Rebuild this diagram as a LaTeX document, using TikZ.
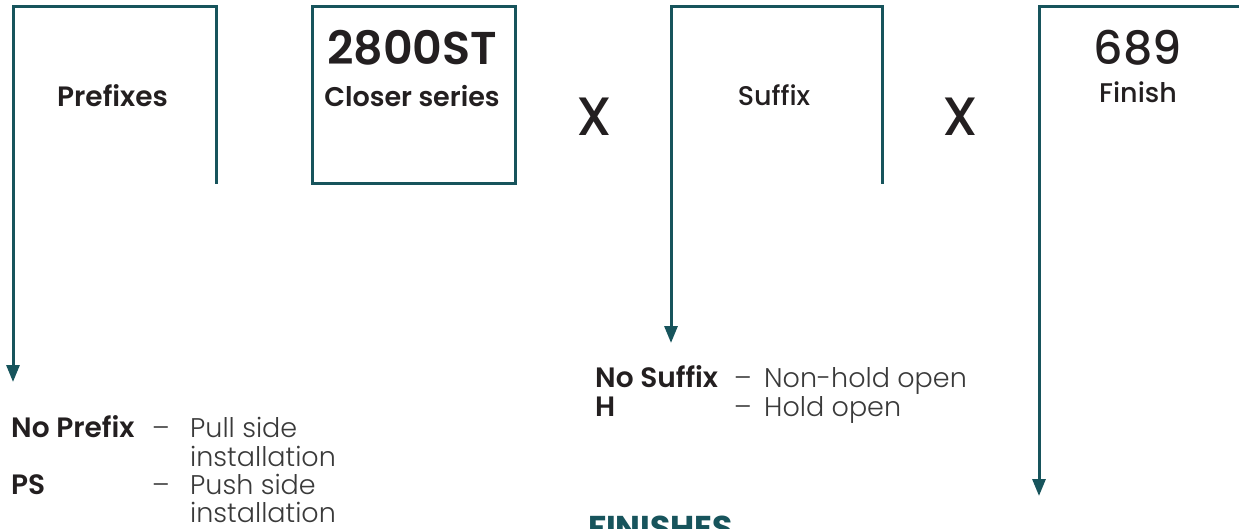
\documentclass[tikz,border=0pt]{standalone}
\usepackage{fontspec}
\setmainfont{Poppins}
\newfontfamily\lightfont{Poppins}[UprightFont=* Light]
\newfontfamily\medfont{Poppins}[UprightFont=* Medium]
\newfontfamily\semifont{Poppins}[UprightFont=* SemiBold]
\usetikzlibrary{arrows.meta}
\definecolor{brandteal}{HTML}{17545C}
\definecolor{ink}{HTML}{231F20}
\definecolor{softink}{HTML}{3A3A3A}
\begin{document}
\begin{tikzpicture}[x=1pt,y=-1pt,
  frame/.style={draw=brandteal,line width=3pt},
  arr/.style={-{Triangle[length=17pt,width=13pt]}},
  txt/.style={inner sep=0pt,text=ink,anchor=base},
  lbl/.style={inner sep=0pt,text=ink,anchor=base west,font=\semifont\fontsize{28}{30}\selectfont},
  desc/.style={inner sep=0pt,text=softink,anchor=base west,font=\lightfont\fontsize{27}{30}\selectfont}]
\useasboundingbox (0,0) rectangle (1239,529);
\clip (0,0) rectangle (1239,529);
% frames
\coordinate (b1br) at (216.5,184);
\coordinate (b1tr) at (216.5,7);
\coordinate (b1tl) at (13,7);
\coordinate (b1tip) at (13,382);
\draw[frame,arr] (b1br) -- (b1tr) -- (b1tl) -- (b1tip);
\coordinate (b2a) at (312,7);
\coordinate (b2b) at (515,184);
\draw[frame] (b2a) rectangle (b2b);
\coordinate (b3br) at (882.5,184);
\coordinate (b3tr) at (882.5,7);
\coordinate (b3tl) at (671,7);
\coordinate (b3tip) at (671,343);
\draw[frame,arr] (b3br) -- (b3tr) -- (b3tl) -- (b3tip);
\coordinate (b4tr) at (1250,7);
\coordinate (b4tl) at (1039,7);
\coordinate (b4tip) at (1039,496);
\draw[frame,arr] (b4tr) -- (b4tl) -- (b4tip);
% headings
\node[txt,font=\semifont\fontsize{28}{30}\selectfont] (prefixes) at (112.5,107) {Prefixes};
\node[txt,font=\semifont\fontsize{46}{50}\selectfont] (series) at (412,65) {2800ST};
\node[txt,font=\semifont\fontsize{27}{30}\selectfont] (closer) at (412,107) {Closer series};
\node[txt,font=\medfont\fontsize{54}{58}\selectfont] (x1) at (594,136) {X};
\node[txt,font=\medfont\fontsize{27}{30}\selectfont] (suffix) at (774,106) {Suffix};
\node[txt,font=\medfont\fontsize{54}{58}\selectfont] (x2) at (960,136) {X};
\node[txt,font=\medfont\fontsize{46}{50}\selectfont] (finno) at (1138,65) {689};
\node[txt,font=\medfont\fontsize{27}{30}\selectfont] (finish) at (1138,103) {Finish};
% prefix list
\node[lbl] (np) at (11,437) {No Prefix};
\node[desc] (npd) at (152,437) {–};
\node[desc] (npt) at (190,437) {Pull side};
\node[desc] (npt2) at (190,466) {installation};
\node[lbl] (ps) at (11,494) {PS};
\node[desc] (psd) at (152,494) {–};
\node[desc] (pst) at (190,494) {Push side};
\node[desc] (pst2) at (190,522) {installation};
% suffix list
\node[lbl] (ns) at (595,387) {No Suffix};
\node[desc] (nsd) at (734,387) {–};
\node[desc] (nst) at (764,387) {Non-hold open};
\node[lbl] (h) at (595,416) {H};
\node[desc] (hd) at (734,416) {–};
\node[desc] (ht) at (764,416) {Hold open};
% finishes heading (cut by the page edge, as in the reference)
\node[inner sep=0pt,anchor=base west,text=brandteal,font=\bfseries\fontsize{33}{36}\selectfont] (fin) at (588,539) {FINISHES};
\end{tikzpicture}
\end{document}
